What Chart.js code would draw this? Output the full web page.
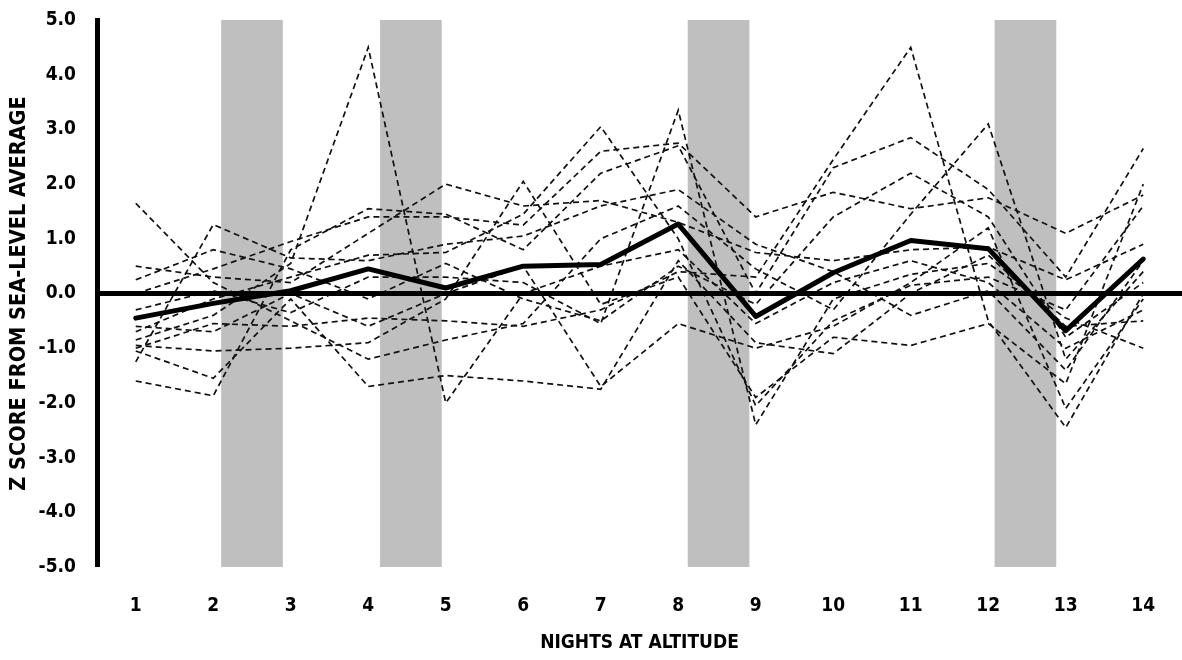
<!DOCTYPE html>
<html>
<head>
<meta charset="utf-8">
<script src="https://cdn.jsdelivr.net/npm/chart.js@4/dist/chart.umd.min.js"></script>
<style>
  html, body { margin: 0; padding: 0; background: #fff; }
  #wrap { width: 1182px; height: 660px; }
</style>
</head>
<body>
<div id="wrap"><canvas id="c" width="1182" height="660"></canvas></div>
<script>
// ---- data ----
const nights = [1, 2, 3, 4, 5, 6, 7, 8, 9, 10, 11, 12, 13, 14];
const yTicks = [-5, -4, -3, -2, -1, 0, 1, 2, 3, 4, 5];
const bandCenters = [2.5, 4.55, 8.52, 12.48];
const bandRange = [-5, 5];

const meanZ = [-0.45, -0.18, 0.05, 0.45, 0.1, 0.5, 0.53, 1.27, -0.42, 0.38, 0.97, 0.82, -0.68, 0.63];

const subj01 = [-0.85, -0.4, 0.55, 4.5, -2.0, 0.0, 0.5, 0.8, -0.55, 0.2, 0.6, 0.2, -1.0, -0.3];
const subj02 = [0.0, 0.45, 0.95, 1.4, 1.4, 1.25, 2.6, 2.75, 1.4, 1.85, 1.55, 1.75, 1.1, 1.8];
const subj03 = [-0.3, 0.05, -0.35, 0.3, 0.3, 0.2, -0.55, 3.35, -2.4, -0.1, 0.35, 0.55, -0.45, -1.0];
const subj04 = [-1.0, -0.55, -0.6, -0.45, -0.5, -0.6, -0.3, 0.4, 0.3, 2.45, 4.5, -0.5, -2.45, 0.0];
const subj05 = [1.65, 0.2, -0.5, -1.2, -0.85, -0.55, 1.0, 1.6, 0.45, -0.3, 1.45, 3.1, -1.2, 0.4];
const subj06 = [-1.25, 1.26, 0.65, 0.6, 0.9, 1.05, 1.6, 1.9, 0.9, 0.4, -0.4, 0.05, -1.4, 0.6];
const subj07 = [-1.6, -1.87, 0.8, 1.55, 1.45, 0.8, 2.2, 2.7, 0.0, 2.3, 2.85, 1.9, 0.3, 2.65];
const subj08 = [-0.95, -1.05, -1.0, -0.9, -0.1, 2.05, -0.2, 0.3, -1.9, -0.8, -0.95, -0.55, -1.65, 2.0];
const subj09 = [0.5, 0.3, 0.2, 1.1, 2.0, 1.6, 1.7, 1.3, 0.75, 0.6, 0.8, 0.85, 0.25, 0.9];
const subj10 = [-0.7, -0.1, 0.3, 0.7, 0.75, 1.45, 3.05, 1.0, -2.05, -0.5, 0.15, 0.3, -0.3, 1.6];
const subj11 = [0.25, 0.8, 0.45, -0.1, 0.55, -0.1, -0.5, 0.5, -0.2, 1.4, 2.2, 1.4, -0.8, 0.2];
const subj12 = [-1.05, -1.55, -0.1, -1.7, -1.5, -1.6, -1.75, 0.6, -0.9, -1.1, 0.0, 0.7, -0.6, -0.5];
const subj13 = [-0.6, -0.7, 0.0, -0.6, 0.0, 0.5, -1.7, -0.55, -1.0, -0.6, 0.2, 1.2, -2.1, -0.1];

const subjects = [subj01, subj02, subj03, subj04, subj05, subj06, subj07, subj08, subj09, subj10, subj11, subj12, subj13];

// ---- build chart ----
const toPts = vals => nights.map((n, i) => ({ x: n, y: vals[i] }));

const FONT = "'Liberation Sans Narrow', 'DejaVu Sans Condensed', 'Liberation Sans', sans-serif";

const datasets = [];
datasets.push({
  type: 'line',
  label: 'Mean',
  data: toPts(meanZ),
  borderColor: '#000',
  borderWidth: 5,
  pointRadius: 0,
  tension: 0,
  fill: false,
  borderCapStyle: 'round',
  borderJoinStyle: 'round',
  order: 0
});
subjects.forEach((s, k) => {
  datasets.push({
    type: 'line',
    label: 'S' + (k + 1),
    data: toPts(s),
    borderColor: '#111',
    borderWidth: 1.7,
    borderDash: [6, 4],
    pointRadius: 0,
    tension: 0,
    fill: false,
    order: 1
  });
});
datasets.push({
  type: 'bar',
  label: 'bands',
  data: bandCenters.map(c => ({ x: c, y: bandRange })),
  backgroundColor: '#bfbfbf',
  borderWidth: 0,
  barThickness: 61,
  grouped: false,
  order: 2
});

new Chart(document.getElementById('c'), {
  type: 'line',
  data: { datasets },
  options: {
    responsive: false,
    animation: false,
    events: [],
    layout: { padding: { top: 20, right: 0, bottom: 0, left: 0 } },
    plugins: { legend: { display: false }, tooltip: { enabled: false } },
    scales: {
      x: {
        type: 'linear',
        offset: false,
        min: nights[0] - 0.5,
        max: nights[nights.length - 1] + 0.5,
        afterBuildTicks: s => { s.ticks = nights.map(v => ({ value: v })); },
        afterFit: s => { s.height = 93; s.paddingLeft = 0; s.paddingRight = 0; },
        grid: { display: false, offset: false },
        border: { display: false },
        ticks: {
          color: '#000',
          padding: 20,
          font: { family: FONT, size: 19, weight: 'bold' },
          callback: v => String(v)
        },
        title: {
          display: true,
          text: 'NIGHTS AT ALTITUDE',
          color: '#000',
          padding: { top: 0, bottom: 6 },
          font: { family: FONT, size: 19, weight: 'bold' }
        }
      },
      y: {
        type: 'linear',
        min: yTicks[0],
        max: yTicks[yTicks.length - 1],
        afterBuildTicks: s => { s.ticks = yTicks.map(v => ({ value: v })); },
        afterFit: s => { s.width = 97; s.paddingTop = 0; s.paddingBottom = 0; },
        grid: {
          display: true,
          drawTicks: false,
          z: 1,
          color: c => (c.tick && c.tick.value === 0) ? '#000' : 'rgba(0,0,0,0)',
          lineWidth: c => (c.tick && c.tick.value === 0) ? 5 : 0
        },
        border: { display: true, color: '#000', width: 5, z: 1 },
        ticks: {
          color: '#000',
          padding: 21,
          font: { family: FONT, size: 19, weight: 'bold' },
          callback: v => Number(v).toFixed(1)
        },
        title: {
          display: true,
          text: 'Z SCORE FROM SEA-LEVEL AVERAGE',
          color: '#000',
          padding: { top: 7, bottom: 0 },
          font: { family: FONT, size: 21.5, weight: 'bold' }
        }
      }
    }
  }
});
</script>
</body>
</html>
